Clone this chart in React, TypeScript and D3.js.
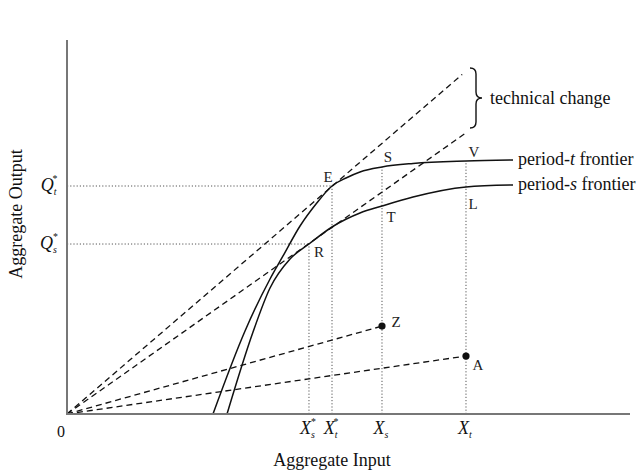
import React from "react";
import * as d3 from "d3";

// ---- data (abstract units: input 0..100, output 0..100) ----
const frontierT: [number, number][] = [
  [25.93, 0], [31.62, 22.19], [36.06, 36.1], [38.37, 42.25], [41.39, 50.27],
  [44.23, 56.15], [47.07, 60.96], [49.56, 63.1], [52.04, 64.71], [55.95, 66.04],
  [61.46, 66.98], [70.87, 67.65], [78.69, 67.91],
];
const frontierS: [number, number][] = [
  [28.42, 0], [33.04, 21.93], [36.06, 33.69], [39.61, 41.44], [42.98, 45.45],
  [47.07, 50.0], [52.04, 53.74], [55.95, 55.61], [61.46, 58.02], [70.87, 60.7],
  [78.69, 61.23],
];
// rays from origin (end points)
const rayEnds: [number, number][] = [
  [70.2, 90.8], [70.9, 75.2], [55.95, 23.5], [70.87, 15.5],
];
// input markers: x value and top of dotted guide
const inputNames = ["Xs*", "Xt*", "Xs", "Xt"];
const inputX = [42.98, 47.07, 55.95, 70.87];
const inputTop = [45.45, 60.96, 66.04, 67.65];
// output markers
const outputNames = ["Qt*", "Qs*"];
const outputY = [60.96, 45.45];
const outputRight = [47.07, 42.98];
// named points
const pointNames = ["E", "R", "S", "T", "V", "L", "Z", "A"];
const pointX = [47.07, 42.98, 55.95, 55.95, 70.87, 70.87, 55.95, 70.87];
const pointY = [60.96, 45.45, 66.04, 55.61, 67.65, 60.7, 23.5, 15.5];
const dotNames = ["Z", "A"];

const W = 643, H = 472;
const ox = 67, oy = 414;
const x = d3.scaleLinear().domain([0, 100]).range([ox, 630]);
const y = d3.scaleLinear().domain([0, 100]).range([oy, 40]);

const labelOffset: Record<string, [number, number]> = {
  E: [-4, -4], R: [10, 13], S: [6, -5], T: [9, 16], V: [8, -4], L: [7, 22], Z: [14, 1], A: [12, 14],
};

const serif = "'Liberation Serif', 'DejaVu Serif', serif";

function Sub({ base, sub, star, x0, y0, size }: any) {
  return (
    <text x={x0} y={y0} fontFamily={serif} fontSize={size} fontStyle="italic" textAnchor="middle" fill="#111">
      {base}
      <tspan fontSize={size * 0.55} dy={size * 0.22}>{sub}</tspan>
      {star ? <tspan fontSize={size * 0.55} dx={-size * 0.22} dy={-size * 0.7} fontStyle="normal">*</tspan> : null}
    </text>
  );
}

export default function App() {
  const line = d3.line<[number, number]>().x((d) => x(d[0])).y((d) => y(d[1])).curve(d3.curveMonotoneX);
  return (
    <svg width={W} height={H} style={{ position: "absolute", left: 0, top: 0, background: "#fff" }}>
      {/* dotted guides */}
      {inputX.map((v, i) => (
        <line key={"gx" + i} x1={x(v)} x2={x(v)} y1={y(0)} y2={y(inputTop[i])} stroke="#555" strokeWidth={1} strokeDasharray="1.2,2" />
      ))}
      {outputY.map((v, i) => (
        <line key={"gy" + i} x1={x(0)} x2={x(outputRight[i])} y1={y(v)} y2={y(v)} stroke="#555" strokeWidth={1} strokeDasharray="1.2,2" />
      ))}
      {/* rays */}
      {rayEnds.map((d, i) => (
        <line key={"r" + i} x1={x(0)} y1={y(0)} x2={x(d[0])} y2={y(d[1])} stroke="#111" strokeWidth={1.3} strokeDasharray="6,4" />
      ))}
      {/* frontiers */}
      <path d={line(frontierT) || ""} fill="none" stroke="#111" strokeWidth={1.5} />
      <path d={line(frontierS) || ""} fill="none" stroke="#111" strokeWidth={1.5} />
      {/* axes */}
      <line x1={x(0)} x2={x(0)} y1={y(0) + 1} y2={y(100)} stroke="#777" strokeWidth={2} />
      <line x1={x(0) - 1} x2={x(100)} y1={y(0)} y2={y(0)} stroke="#777" strokeWidth={2} />
      {/* dots */}
      {pointNames.map((n, i) =>
        dotNames.includes(n) ? <circle key={"d" + n} cx={x(pointX[i])} cy={y(pointY[i])} r={3.6} fill="#111" /> : null
      )}
      {/* point labels */}
      {pointNames.map((n, i) => (
        <text key={"l" + n} x={x(pointX[i]) + labelOffset[n][0]} y={y(pointY[i]) + labelOffset[n][1]} fontFamily={serif} fontSize={15} textAnchor="middle" fill="#222">
          {n}
        </text>
      ))}
      {/* input labels */}
      {inputNames.map((n, i) => (
        <Sub key={"xi" + i} base="X" sub={n[1]} star={n.includes("*")} x0={x(inputX[i]) - 1} y0={434} size={18} />
      ))}
      {/* output labels */}
      {outputNames.map((n, i) => (
        <Sub key={"yo" + i} base="Q" sub={n[1]} star={n.includes("*")} x0={49} y0={y(outputY[i]) + 5} size={18} />
      ))}
      <text x={61} y={437} fontFamily={serif} fontSize={16} textAnchor="middle" fill="#111">0</text>
      {/* axis titles */}
      <text x={332} y={466} fontFamily={serif} fontSize={18} textAnchor="middle" fill="#111">Aggregate Input</text>
      <text transform="translate(22,214) rotate(-90)" fontFamily={serif} fontSize={18} textAnchor="middle" fill="#111">Aggregate Output</text>
      {/* brace */}
      <path d="M 470 68 Q 476 68 476 74 L 476 92 Q 476 98 482 98 Q 476 98 476 104 L 476 122 Q 476 128 470 128" fill="none" stroke="#111" strokeWidth={1.4} />
      <text x={490} y={104} fontFamily={serif} fontSize={18} fill="#111">technical change</text>
      {/* frontier label leaders */}
      <line x1={x(78.69)} x2={513} y1={y(67.91)} y2={y(67.91)} stroke="#111" strokeWidth={1.5} />
      <line x1={x(78.69)} x2={513} y1={y(61.23)} y2={y(61.23)} stroke="#111" strokeWidth={1.5} />
      <text x={518} y={y(67.91) + 5} fontFamily={serif} fontSize={18} fill="#111">period-<tspan fontStyle="italic">t</tspan> frontier</text>
      <text x={518} y={y(61.23) + 5} fontFamily={serif} fontSize={18} fill="#111">period-<tspan fontStyle="italic">s</tspan> frontier</text>
    </svg>
  );
}
